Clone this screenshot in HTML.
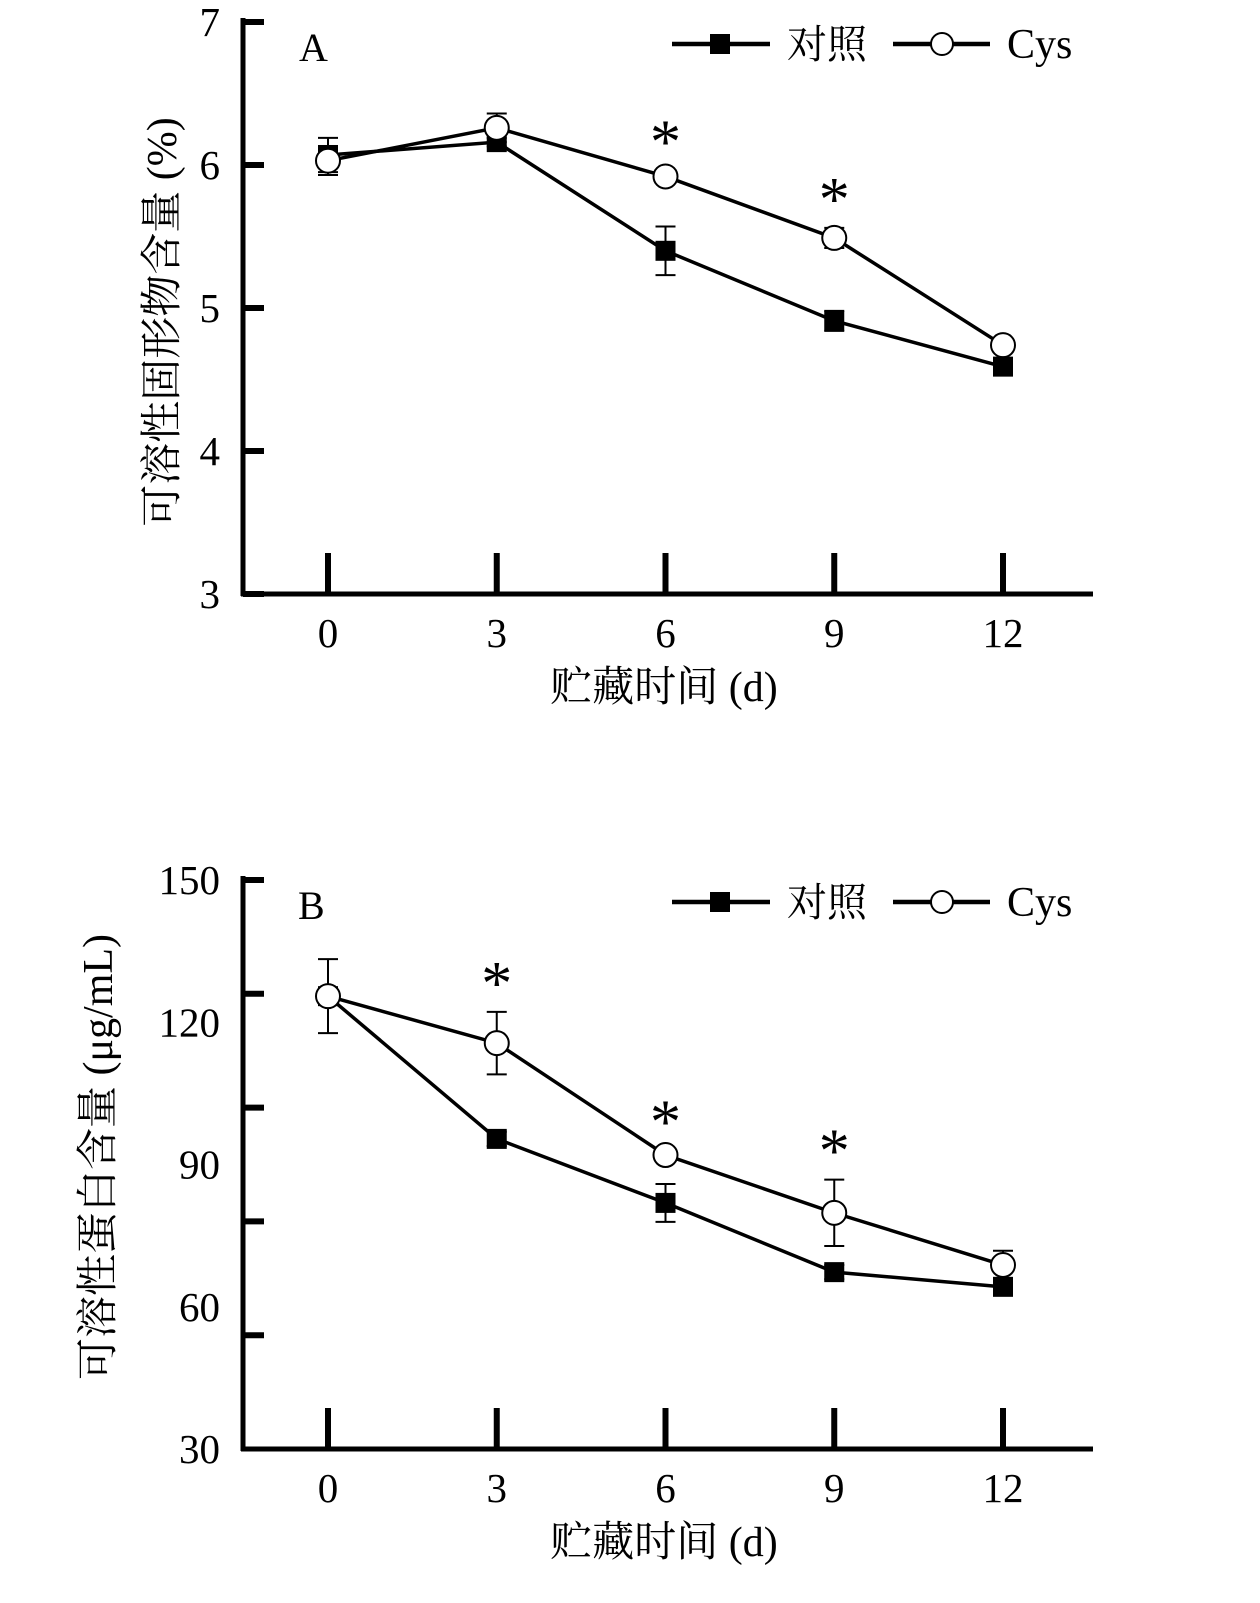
<!DOCTYPE html>
<html><head><meta charset="utf-8"><style>
html,body{margin:0;padding:0;background:#fff}
svg text{font-family:"Liberation Serif","Noto Serif CJK SC",serif;fill:#000}
</style></head><body>
<svg id="chart" width="1260" height="1598" viewBox="0 0 1260 1598" xmlns="http://www.w3.org/2000/svg"></svg>
<script>
const days=[0,3,6,9,12];
const aCtrl=[6.07,6.16,5.40,4.91,4.59];
const aCtrlErr=[0.12,0.03,0.17,0.07,0.03];
const aCys=[6.03,6.26,5.92,5.49,4.74];
const aCysErr=[0.1,0.1,0.04,0.07,0.04];
const aTicks=[3,4,5,6,7];
const aStars=[6,9];
const bCtrl=[125.5,95.4,81.9,67.3,64.2];
const bCtrlErr=[1,1.5,4,1.5,1.5];
const bCys=[125.5,115.6,92,79.8,68.8];
const bCysErr=[7.8,6.6,1,7,3];
const bTickLabels=[30,60,90,120,150];
const bTickMarks=[54,78,102,126,150];
const bStars=[3,6,9];
const NS="http://www.w3.org/2000/svg";
const svg=document.getElementById('chart');
function mk(tag,attrs,parent,txt){const e=document.createElementNS(NS,tag);for(const k in attrs)e.setAttribute(k,attrs[k]);if(txt!==undefined)e.textContent=txt;(parent||svg).appendChild(e);return e;}
const xs=d=>328+d*(1003-328)/12;
function panel(o){
  const g=mk('g',{});
  
  
  const ys=v=>o.y0-(v-o.vmin)*(o.y0-o.y1)/(o.vmax-o.vmin);
  let e=mk('line',{x1:243,y1:o.y1-4,x2:243,y2:o.y0+2,stroke:'#000','stroke-width':5},g);
  
  e=mk('line',{x1:241,y1:o.y0,x2:1093,y2:o.y0,stroke:'#000','stroke-width':5},g);
  
  o.marks.forEach(v=>{const t=mk('line',{x1:243,x2:264,y1:ys(v),y2:ys(v),stroke:'#000','stroke-width':6},g);
    });
  o.labels.forEach(v=>{const t=mk('text',{x:o.labelX,y:ys(v)+14,'text-anchor':'end','font-size':41},g,String(v));
    });
  days.forEach(d=>{const t=mk('line',{x1:xs(d),x2:xs(d),y1:o.y0-41,y2:o.y0,stroke:'#000','stroke-width':6},g);
    
    const l=mk('text',{x:xs(d),y:o.y0+53,'text-anchor':'middle','font-size':41},g,String(d));
    });
  e=mk('text',{x:664,y:o.y0+107,'text-anchor':'middle','font-size':42},g,'贮藏时间 (d)');
  
  e=mk('text',{x:0,y:0,'text-anchor':'middle','font-size':42,transform:`translate(${o.titleX},${o.titleY}) rotate(-90)`},g,o.title);
  
  e=mk('text',{x:o.letterX,y:o.y1+39,'font-size':40},g,o.letter);
  
  function series(vals,errs,kind){
    const pts=days.map((d,i)=>xs(d)+','+ys(vals[i])).join(' ');
    const pl=mk('polyline',{points:pts,fill:'none',stroke:'#000','stroke-width':3.5},g);
    
    days.forEach((d,i)=>{const x=xs(d),y=ys(vals[i]),hi=ys(vals[i]+errs[i]),lo=ys(vals[i]-errs[i]);
      const eb=mk('path',{d:`M${x},${hi}V${lo}M${x-10},${hi}H${x+10}M${x-10},${lo}H${x+10}`,stroke:'#000','stroke-width':2,fill:'none'},g);
      
      let m;
      if(kind==='control')m=mk('rect',{x:x-10,y:y-10,width:20,height:20,fill:'#000'},g);
      else m=mk('circle',{cx:x,cy:y,r:12,fill:'#fff',stroke:'#000','stroke-width':2},g);
      });
  }
  series(o.ctrl,o.ctrlErr,'control');
  series(o.cys,o.cysErr,'cys');
  o.stars.forEach(d=>{const i=days.indexOf(d);const top=ys(o.cys[i]+o.cysErr[i]);
    const s=mk('text',{x:xs(d),y:top-8,'text-anchor':'middle','font-size':62,'fill':'#1a1a3a'},g,'*');
    });
  const ly=o.y1+22;
  const lg=mk('g',{},g);
  mk('line',{x1:672,x2:770,y1:ly,y2:ly,stroke:'#000','stroke-width':4.5},lg);
  mk('rect',{x:710,y:ly-10,width:20,height:20,fill:'#000'},lg);
  e=mk('text',{x:787,y:ly+14,'font-size':40},lg,'对照');
  mk('line',{x1:893,x2:990,y1:ly,y2:ly,stroke:'#000','stroke-width':4.5},lg);
  mk('circle',{cx:942,cy:ly,r:11,fill:'#fff',stroke:'#000','stroke-width':2},lg);
  e=mk('text',{x:1007,y:ly+14,'font-size':42},lg,'Cys');
}
panel({name:'chart-a',y0:594,y1:22,vmin:3,vmax:7,marks:aTicks,labels:aTicks,labelX:220,ctrl:aCtrl,ctrlErr:aCtrlErr,cys:aCys,cysErr:aCysErr,stars:aStars,title:'可溶性固形物含量 (%)',titleX:176,titleY:322,letter:'A',letterX:299});
panel({name:'chart-b',y0:1449,y1:880,vmin:30,vmax:150,marks:bTickMarks,labels:bTickLabels,labelX:220,ctrl:bCtrl,ctrlErr:bCtrlErr,cys:bCys,cysErr:bCysErr,stars:bStars,title:'可溶性蛋白含量 (μg/mL)',titleX:112,titleY:1157,letter:'B',letterX:298});
</script>
</body></html>
